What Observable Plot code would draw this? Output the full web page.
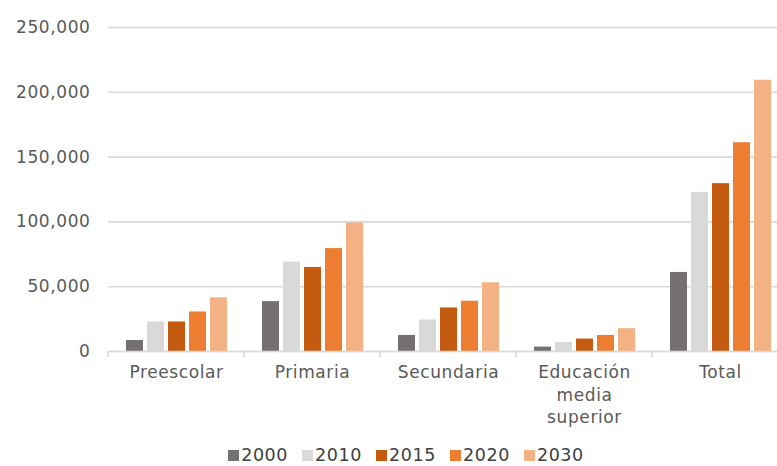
<!DOCTYPE html>
<html>
<head>
<meta charset="utf-8">
<script src="https://cdn.jsdelivr.net/npm/d3@7"></script>
<script src="https://cdn.jsdelivr.net/npm/@observablehq/plot@0.6"></script>
<style>
  html, body { margin: 0; padding: 0; background: #fff; }
  body { width: 777px; font-family: "DejaVu Sans", sans-serif; }
  #chart svg text { letter-spacing: 0.6px; }
  #legend { display: flex; justify-content: center; align-items: center; height: 22px; padding-top: 8px; margin-left: 35px; font-size: 17.5px; line-height: 20px; letter-spacing: 0.6px; color: #404040; }
  .item { display: flex; align-items: center; margin: 0 7px; }
  .sw { width: 11px; height: 11px; margin-right: 2px; display: inline-block; }
</style>
</head>
<body>
<div id="chart"></div>
<div id="legend"></div>
<script>
const categories = ["Preescolar", "Primaria", "Secundaria", "Educación\nmedia\nsuperior", "Total"];
const years = ["2000", "2010", "2015", "2020", "2030"];
const colors = ["#767171", "#d9d9d9", "#c55a11", "#ed7d31", "#f4b183"];
const values2000 = [8500, 38500, 12400, 3400, 61000];
const values2010 = [22800, 69000, 24300, 7000, 122800];
const values2015 = [22800, 64900, 33600, 9600, 129500];
const values2020 = [30500, 79400, 38800, 12400, 161100];
const values2030 = [41400, 99200, 53000, 17600, 209300];
const yTicks = [0, 50000, 100000, 150000, 200000, 250000];

const series = [values2000, values2010, values2015, values2020, values2030];
const data = [];
categories.forEach((c, i) => {
  years.forEach((y, j) => data.push({category: c, year: y, value: series[j][i]}));
});

const W = 777, H = 436, ML = 106;
const groupW = (W - ML) / 4.91;

const plot = Plot.plot({
  width: W,
  height: H,
  marginLeft: ML,
  marginRight: 0,
  marginTop: 27,
  marginBottom: 85,
  style: {fontFamily: "DejaVu Sans, sans-serif", fontSize: "17px", color: "#595959", overflow: "hidden", display: "block"},
  fx: {domain: categories, range: [ML, ML + groupW * 5], padding: 0, label: null},
  x: {domain: years, paddingInner: 0.2, paddingOuter: 0.75, axis: null},
  y: {domain: [0, 250000], label: null},
  color: {domain: years, range: colors},
  marks: [
    Plot.gridY(yTicks, {stroke: "#d9d9d9", strokeOpacity: 1, strokeWidth: 1.6}),
    Plot.axisY(yTicks, {tickSize: 0, tickPadding: 18, tickFormat: d3.format(","), fill: "#595959", fontSize: "17px", label: null}),
    Plot.barY(data, {fx: "category", x: "year", y: "value", fill: "year"}),
    Plot.ruleY([0], {stroke: "#d9d9d9", strokeWidth: 1.6}),
    Plot.axisFx({tickSize: 0, tickPadding: 11, fill: "#595959", fontSize: "17px", lineHeight: 1.32, label: null, anchor: "bottom"})
  ]
});

// boundary ticks at the edges of each category band, from the fx scale
const fx = plot.scale("fx");
const y = plot.scale("y");
const y0 = y.apply(0);
const svg = d3.select(plot);
const edges = categories.map(c => fx.apply(c)).concat([fx.apply(categories[4]) + fx.bandwidth]);
svg.append("g").selectAll("line").data(edges).join("line")
  .attr("x1", d => d).attr("x2", d => d)
  .attr("y1", y0).attr("y2", y0 + 6)
  .attr("stroke", "#d9d9d9").attr("stroke-width", 1.6);

document.getElementById("chart").appendChild(plot);

const legend = d3.select("#legend");
years.forEach((yr, i) => {
  const it = legend.append("div").attr("class", "item");
  it.append("span").attr("class", "sw").style("background", colors[i]);
  it.append("span").text(yr);
});
</script>
</body>
</html>
